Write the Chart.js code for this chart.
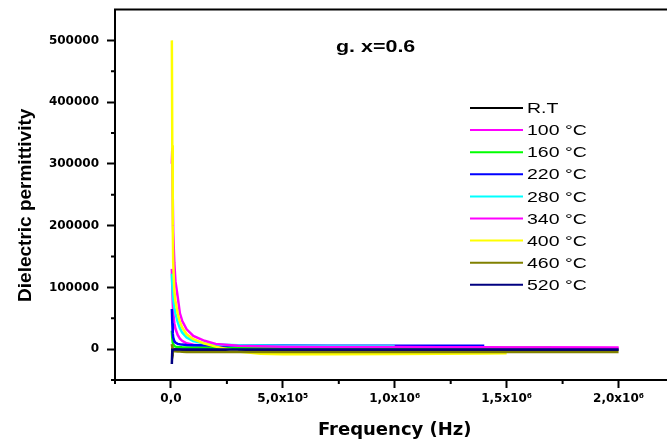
<!DOCTYPE html>
<html>
<head>
<meta charset="utf-8">
<script src="https://cdn.jsdelivr.net/npm/chart.js@4.4.1/dist/chart.umd.min.js"></script>
<style>
html, body { margin: 0; padding: 0; background: #fff; overflow: hidden; }
#wrap { width: 667px; height: 444px; overflow: hidden; }
#box { width: 680px; height: 444px; }
</style>
</head>
<body>
<div id="wrap"><div id="box"><canvas id="chart"></canvas></div></div>
<script>
// frequency points (Hz), shared by all curves; shorter series stop early
const freqHz = [4000, 6000, 8000, 10000, 15000, 20000, 30000, 40000, 50000, 70000,
    100000, 150000, 200000, 300000, 400000, 500000, 700000, 1000000, 1200000,
    1400000, 1500000, 1700000, 2000000];

const seriesLabels = ['R.T', '100 °C', '160 °C', '220 °C', '280 °C', '340 °C', '400 °C', '460 °C', '520 °C'];
const seriesColors = ['#000000', '#ff00ff', '#00ff00', '#0000ff', '#00ffff', '#ff00ff', '#ffff00', '#808000', '#000080'];

// dielectric permittivity
const epsRT  = [2000, 1000, 500, 0, -500, -500, -800, -800, -1000, -1000, -1000, -1000, -1000, -1000, -1000, -1000, -1000, -1000, -1000, -1000, -1000, -1000, -1000];
const eps100 = [130000, 100000, 75000, 60000, 42000, 33000, 23000, 17000, 13500, 9500, 7000, 5500, 4500, 4000, 3800, 3600, 3400, 3200, 3000, 2800, 2700, 2500, 2200];
const eps160 = [30000, 18000, 11000, 8000, 5000, 4000, 3500, 3200, 3000, 2800, 2600, 2500, 2400, 2300, 2200, 2200, 2100, 2000, 2000, 2000, 2000, 1900];
const eps220 = [65000, 42000, 26000, 19000, 13000, 10500, 8500, 7800, 7300, 6800, 6400, 6100, 6000, 5900, 5800, 5700, 5600, 5500, 5400, 5300];
const eps280 = [122000, 105000, 92000, 82000, 68000, 58000, 44000, 34000, 27000, 19000, 13000, 9000, 7500, 6300, 5800, 5500, 5200, 5000];
const eps340 = [300000, 326000, 250000, 190000, 140000, 110000, 85000, 58000, 46000, 32000, 21500, 13500, 8500, 5500, 4500, 4000, 3600, 3300, 3100, 2900, 2800, 2600, 2300];
const eps400 = [500000, 330000, 200000, 140000, 95000, 78000, 58000, 44000, 35000, 24000, 16000, 9000, 4000, -4000, -7500, -8500, -8500, -8000, -7500, -7000, -6500];
const eps460 = [8000, 3000, 0, -2000, -3000, -3500, -3800, -4000, -4200, -4500, -4500, -4500, -4500, -4500, -4500, -4500, -4500, -4500, -4500, -4500, -4500, -4500, -4500];
const eps520 = [-24000, -2000, -1000, -1000, -800, -800, -800, -800, -800, -800, -800, -800, -800, -800, -800, -800, -800, -800, -800, -800, -800, -800, -800];

const allSeries = [epsRT, eps100, eps160, eps220, eps280, eps340, eps400, eps460, eps520];

// axis ticks
const xTickValues = [0, 500000, 1000000, 1500000, 2000000];
const xTickLabels = ['0,0', '5,0x10⁵', '1,0x10⁶', '1,5x10⁶', '2,0x10⁶'];
const xMinorTicks = [-250000, 250000, 750000, 1250000, 1750000];
const yTickValues = [0, 100000, 200000, 300000, 400000, 500000];
const yMinorTicks = [-50000, 50000, 150000, 250000, 350000, 450000];

const datasets = allSeries.map((vals, i) => ({
    label: seriesLabels[i],
    data: vals.map((v, k) => ({ x: freqHz[k], y: v })),
    borderColor: seriesColors[i],
    backgroundColor: seriesColors[i],
    borderWidth: 2.5,
    pointRadius: 0,
    tension: 0,
    fill: false,
    order: allSeries.length - i   // later curves on top
}));

// top frame line, minor ticks, inner title and legend
const extras = {
    id: 'extras',
    afterDraw(chart) {
        const ctx = chart.ctx;
        const area = chart.chartArea;
        const xs = chart.scales.x, ys = chart.scales.y;
        ctx.save();
        ctx.strokeStyle = '#000';
        ctx.lineWidth = 2;
        ctx.beginPath();
        ctx.moveTo(area.left - 1, area.top);
        ctx.lineTo(chart.width, area.top);
        ctx.stroke();

        ctx.beginPath();
        xMinorTicks.forEach(v => {
            const px = xs.getPixelForValue(v);
            ctx.moveTo(px, area.bottom);
            ctx.lineTo(px, area.bottom + 4);
        });
        yMinorTicks.forEach(v => {
            const py = ys.getPixelForValue(v);
            ctx.moveTo(area.left, py);
            ctx.lineTo(area.left - 4, py);
        });
        ctx.stroke();

        // title inside the plot
        ctx.fillStyle = '#000';
        ctx.textBaseline = 'alphabetic';
        ctx.font = 'bold 16.5px "Liberation Sans", Arial, sans-serif';
        ctx.save();
        ctx.translate(336, 51.5);
        ctx.scale(1.3, 1);
        ctx.fillText('g. x=0.6', 0, 0);
        ctx.restore();

        // legend
        ctx.font = '15px "Liberation Sans", Arial, sans-serif';
        ctx.textBaseline = 'middle';
        chart.data.datasets.forEach((ds, i) => {
            const y = 108 + i * 22.1;
            ctx.strokeStyle = ds.borderColor;
            ctx.lineWidth = 2;
            ctx.beginPath();
            ctx.moveTo(470, y);
            ctx.lineTo(523, y);
            ctx.stroke();
            ctx.save();
            ctx.translate(527, y + 1);
            ctx.scale(1.3, 1);
            ctx.fillStyle = '#000';
            ctx.fillText(ds.label, 0, 0);
            ctx.restore();
        });
        ctx.restore();
    }
};

const tickFont = { family: 'DejaVu Sans', weight: 'bold', size: 12 };

new Chart(document.getElementById('chart'), {
    type: 'line',
    data: { datasets: datasets },
    options: {
        responsive: true,
        maintainAspectRatio: false,
        animation: false,
        layout: { padding: { left: 0, top: 9.5, right: 5.5, bottom: 0 } },
        plugins: { legend: { display: false }, tooltip: { enabled: false } },
        scales: {
            x: {
                type: 'linear',
                position: 'bottom',
                min: -250000,
                max: 2250000,
                afterBuildTicks: s => { s.ticks = xTickValues.map(v => ({ value: v })); },
                afterFit: s => {
                    s.height = 64;
                    s.paddingLeft = 0; s.paddingRight = 0;
                },
                ticks: {
                    callback: v => xTickLabels[xTickValues.indexOf(v)],
                    font: tickFont,
                    color: '#000',
                    padding: 4,
                    maxRotation: 0,
                    autoSkip: false
                },
                grid: { display: true, drawOnChartArea: false, drawTicks: true, tickLength: 8, tickWidth: 2, tickColor: '#000' },
                border: { display: true, color: '#000', width: 2 },
                title: {
                    display: true,
                    text: 'Frequency (Hz)',
                    color: '#000',
                    font: { family: 'DejaVu Sans', weight: 'bold', size: 18 },
                    padding: { top: 0, bottom: 3 }
                }
            },
            y: {
                type: 'linear',
                min: -50000,
                max: 550000,
                afterBuildTicks: s => { s.ticks = yTickValues.map(v => ({ value: v })); },
                afterFit: s => {
                    s.width = 115;
                    s.paddingTop = 0; s.paddingBottom = 0;
                },
                ticks: {
                    callback: v => String(v),
                    font: tickFont,
                    color: '#000',
                    padding: 8
                },
                grid: { display: true, drawOnChartArea: false, drawTicks: true, tickLength: 8, tickWidth: 2, tickColor: '#000' },
                border: { display: true, color: '#000', width: 2 },
                title: {
                    display: true,
                    text: 'Dielectric permittivity    ',
                    color: '#000',
                    font: { family: 'Liberation Sans', weight: 'bold', size: 19 },
                    padding: { top: 14, bottom: 0 }
                }
            }
        }
    },
    plugins: [extras]
});
</script>
</body>
</html>
